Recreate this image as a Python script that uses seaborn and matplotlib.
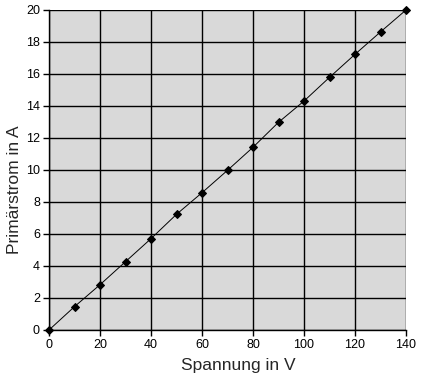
import matplotlib
matplotlib.use("Agg")
import matplotlib.pyplot as plt
import seaborn as sns
import pandas as pd

spannung = [0, 10, 20, 30, 40, 50, 60, 70, 80, 90, 100, 110, 120, 130, 140]
strom = [0.0, 1.46, 2.83, 4.27, 5.71, 7.23, 8.58, 9.98, 11.42, 12.98, 14.31, 15.79, 17.23, 18.63, 20.0]
x_ticks = [0, 20, 40, 60, 80, 100, 120, 140]
y_ticks = [0, 2, 4, 6, 8, 10, 12, 14, 16, 18, 20]

sns.set_style("white")
plt.rcParams['font.family'] = ['Liberation Sans', 'DejaVu Sans']

df = pd.DataFrame({"Spannung": spannung, "Strom": strom})

fig = plt.figure(figsize=(4.21, 3.81), dpi=100)
ax = fig.add_axes([49/421, 51/381, 357/421, 320/381])
ax.set_facecolor("#D9D9D9")

sns.lineplot(data=df, x="Spannung", y="Strom", ax=ax, color="black", linewidth=0.7,
             marker="D", markersize=3.8, markerfacecolor="black", markeredgecolor="black",
             clip_on=False, zorder=5)

ax.set_xlim(0, 140)
ax.set_ylim(0, 20)
ax.set_xticks(x_ticks)
ax.set_yticks(y_ticks)
ax.grid(True, color="black", linewidth=1.0)
ax.set_axisbelow(True)
for s in ["top", "right"]:
    ax.spines[s].set_visible(False)
for s in ["left", "bottom"]:
    ax.spines[s].set_color("black")
    ax.spines[s].set_linewidth(1.0)
ax.tick_params(axis="both", direction="out", length=4, width=1, color="black",
               labelsize=9, labelcolor="black", bottom=True, left=True, pad=2.5)
ax.set_xlabel("Spannung in V", fontsize=12.5)
ax.set_ylabel("Primärstrom in A", fontsize=12.5)
ax.xaxis.set_label_coords(0.529, -0.088)
ax.yaxis.set_label_coords(-0.075, 0.4375)

fig.savefig("out.png", dpi=100)
